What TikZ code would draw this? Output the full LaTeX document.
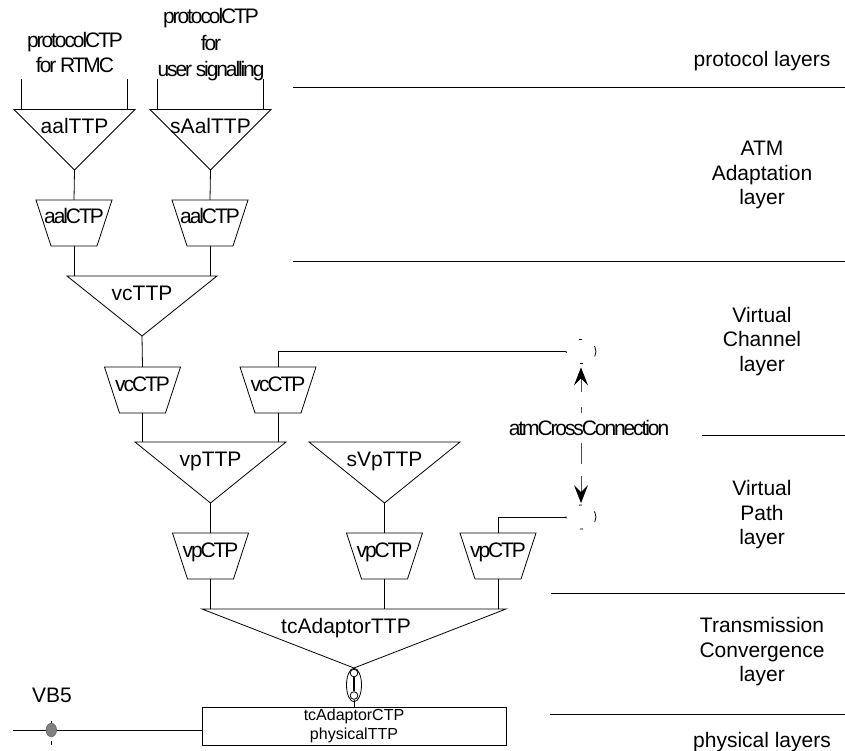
\documentclass[tikz,border=0pt]{standalone}
\usepackage{fontspec}
\setmainfont{Liberation Sans}
\newfontfamily\tightfont[LetterSpace=-10]{Liberation Sans}
\usetikzlibrary{shapes.geometric,arrows.meta}
\newcommand{\bigf}{\fontsize{21}{25}\selectfont}
\newcommand{\layerf}{\fontsize{21}{24.5}\selectfont}
\newcommand{\smallf}{\fontsize{16}{19}\selectfont}
\tikzset{
  ln/.style={line width=0.8pt,black},
  shapebase/.style 2 args={inner sep=0pt,outer sep=0pt,anchor=north,text width=#1,align=center,
     text height=24pt,text depth=#2-24pt,font=\bigf},
  tri/.style 2 args={shapebase={#1}{#2},
     append after command={\pgfextra{\let\LN\tikzlastnode
       \draw[ln,line join=miter] (\LN.north west)--(\LN.north east)--(\LN.south)--cycle;}}},
  trap/.style={shapebase={76pt}{46pt},font=\bigf\tightfont,
     append after command={\pgfextra{\let\LN\tikzlastnode
       \draw[ln] (\LN.north west)--(\LN.north east)--([xshift=-15pt]\LN.south east)--([xshift=15pt]\LN.south west)--cycle;}}},
  txt/.style={align=center,font=\layerf,inner sep=0pt},
  ttxt/.style={align=center,font=\bigf\tightfont,inner sep=0pt},
  xconn/.style={ellipse,draw,line width=0.8pt,minimum width=30pt,minimum height=24pt,inner sep=0pt,
     dash pattern=on 6pt off 14.3pt on 3pt off 18.5pt on 2pt off 18.5pt on 3pt off 14.3pt on 6pt},
  xtip/.tip={Stealth[length=18pt,width=14pt,inset=7pt,black]},
}
\begin{document}
\begin{tikzpicture}[x=1pt,y=-1pt]
\useasboundingbox (0,0) rectangle (845,751);
\node[ttxt] (protoA) at (75,52) {protocolCTP\\for RTMC};
\node[ttxt] (protoB) at (211,45) {protocolCTP\\[1.5pt]for\\[1.5pt]user signalling};
\node[tri={121pt}{60.5pt}] (aalTTP) at (74.5,109.5) {aalTTP};
\node[tri={121pt}{60.5pt}] (sAalTTP) at (210.5,109.5) {sAalTTP};
\node[trap] (aalCTPa) at (74,200) {aalCTP};
\node[trap] (aalCTPb) at (210,200) {aalCTP};
\node[tri={150pt}{60pt}] (vcTTP) at (142,276) {vcTTP};
\node[trap] (vcCTPa) at (142.5,367) {vcCTP};
\node[trap] (vcCTPb) at (278,367) {vcCTP};
\node[tri={151pt}{61pt}] (vpTTP) at (210.5,442) {vpTTP};
\node[tri={151pt}{61pt}] (sVpTTP) at (384.5,442) {sVpTTP};
\node[trap] (vpCTPa) at (210.5,533) {vpCTP};
\node[trap] (vpCTPb) at (384.5,533) {vpCTP};
\node[trap] (vpCTPc) at (498,533) {vpCTP};
\node[tri={304pt}{59pt}] (tcTTP) at (354,609) {\hspace*{-16pt}tcAdaptorTTP};
\node[draw,ln,minimum width=304pt,minimum height=38pt,inner sep=0pt,outer sep=0pt,align=center,
  font=\smallf,anchor=north] (phys) at (354,707) {tcAdaptorCTP\\physicalTTP};
\node[ellipse,draw,ln,minimum width=15pt,minimum height=33.5pt,inner sep=0pt] (oval) at (354,685) {};
\node[circle,draw,ln,minimum size=7.6pt,inner sep=0pt] (ovalT) at (354,673) {};
\node[circle,draw,ln,minimum size=7.6pt,inner sep=0pt] (ovalB) at (354,695.5) {};
\draw[ln] (tcTTP.south) -- (ovalT.north);
\draw[line width=1.1pt] (ovalT.south) -- (ovalB.north);
\draw[ln] (ovalB.south) -- (phys.north);
\coordinate (pa1) at (21.5,79); \coordinate (pa2) at (127,79);
\coordinate (pb1) at (157,79); \coordinate (pb2) at (263.5,79);
\draw[ln] (pa1) -- (pa1 |- aalTTP.north);
\draw[ln] (pa2) -- (pa2 |- aalTTP.north);
\draw[ln] (pb1) -- (pb1 |- sAalTTP.north);
\draw[ln] (pb2) -- (pb2 |- sAalTTP.north);
\draw[ln] (aalTTP.south) -- (aalCTPa.north);
\draw[ln] (sAalTTP.south) -- (aalCTPb.north);
\draw[ln] (aalCTPa.south) -- (aalCTPa.south |- vcTTP.north);
\draw[ln] (aalCTPb.south) -- (aalCTPb.south |- vcTTP.north);
\draw[ln] (vcTTP.south) -- (vcCTPa.north);
\draw[ln] (vcCTPa.south) -- (vcCTPa.south |- vpTTP.north);
\draw[ln] (vcCTPb.south) -- (vcCTPb.south |- vpTTP.north);
\draw[ln] (vpTTP.south) -- (vpCTPa.north);
\draw[ln] (sVpTTP.south) -- (vpCTPb.north);
\draw[ln] (vpCTPa.south) -- (vpCTPa.south |- tcTTP.north);
\draw[ln] (vpCTPb.south) -- (vpCTPb.south |- tcTTP.north);
\draw[ln] (vpCTPc.south) -- (vpCTPc.south |- tcTTP.north);
\node[xconn] (xcA) at (581,351.5) {};
\node[xconn] (xcB) at (581,517) {};
\draw[ln] (vcCTPb.north) |- (xcA.west);
\draw[ln] (vpCTPc.north) |- (xcB.west);
\node[ttxt] (xlabel) at (589,428) {atmCrossConnection};
\draw[line width=0.8pt,black!70,dash pattern=on 14pt off 15pt on 6pt off 30pt on 21pt off 12pt on 40pt,
  xtip-xtip]
  ([yshift=-3.5pt]xcA.south) -- ([yshift=1.5pt]xcB.north);
\node[txt,font=\bigf] (vb5) at (52,695) {VB5};
\coordinate (vbL) at (13,730);
\draw[ln] (vbL) -- (vbL -| phys.west);
\node[ellipse,draw=black!60,fill=black!50,line width=0.6pt,minimum width=10.5pt,minimum height=13.5pt,inner sep=0pt] (vbDot) at (51.3,730) {};
\coordinate (vbTick) at (51.3,741);
\coordinate (vbTickE) at (51.3,745);
\draw[ln] (vbTick) -- (vbTickE);
\coordinate (vbTop) at (51.3,721);
\draw[ln] (vbTop) -- (vbDot.north);
\foreach \nm/\xa/\ya in {r1/293/87.5,r2/293/261,r3/702/435,r4/551/593,r5/550/714.5}{
  \coordinate (\nm) at (\xa,\ya);
  \coordinate (\nm e) at (845,\ya);
  \draw[ln] (\nm) -- (\nm e);
}
\node[txt] (l1) at (762,61) {protocol layers};
\node[txt] (l2) at (762,175) {ATM\\Adaptation\\layer};
\node[txt] (l3) at (762,341.5) {Virtual\\Channel\\layer};
\node[txt] (l4) at (762,515) {Virtual\\Path\\layer};
\node[txt] (l5) at (762,652) {Transmission\\Convergence\\layer};
\node[txt] (l6) at (762,742) {physical layers};
\end{tikzpicture}
\end{document}
